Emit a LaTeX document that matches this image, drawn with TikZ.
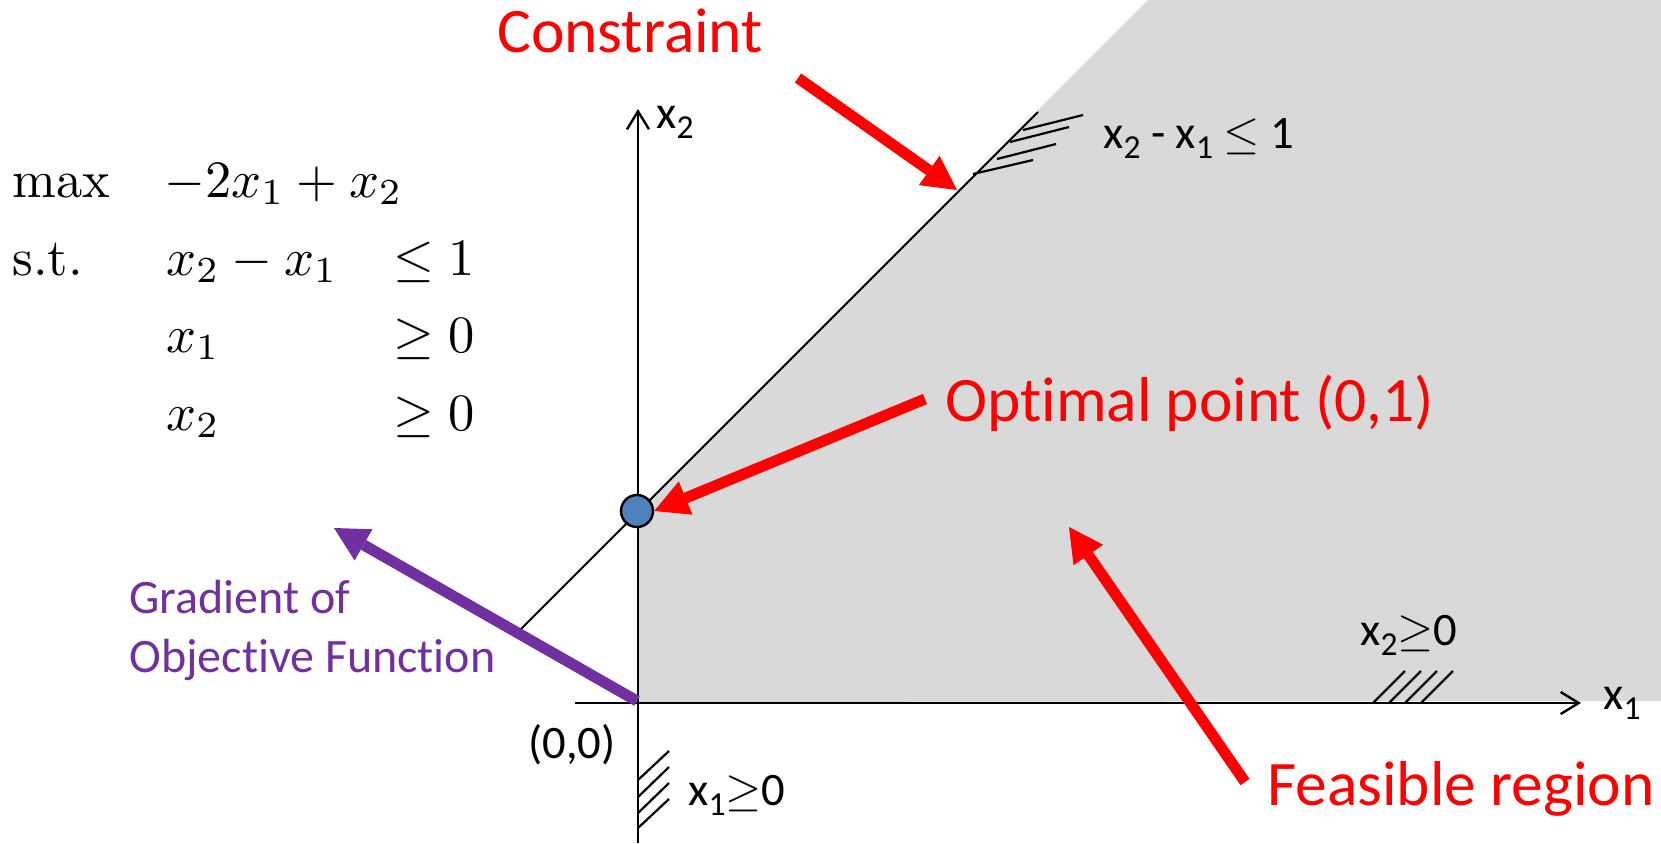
\RequirePackage{fix-cm}
\documentclass[tikz,border=0pt]{standalone}
\usepackage{fontspec}
\usetikzlibrary{arrows.meta}
\newfontfamily\calib{Carlito}[Ligatures=NoCommon]
\definecolor{regiongray}{HTML}{D9D9D9}
\definecolor{ptblue}{HTML}{4F81BD}
\definecolor{ptpurple}{HTML}{7030A0}
\definecolor{ptred}{HTML}{FF0000}
\newcommand{\dn}[1]{\raisebox{-0.23em}{\scalebox{0.72}{#1}}}
\newcommand{\lpbig}[1]{\scalebox{2.625}{\normalsize #1}}
\tikzset{
  redlab/.style={text=ptred, font=\calib\fontsize{31.7}{37}\selectfont, inner sep=0pt, anchor=base west},
  purplab/.style={text=ptpurple, font=\calib\fontsize{24}{28}\selectfont, inner sep=0pt, anchor=base west},
  blab/.style={text=black, font=\calib\fontsize{23.3}{27}\selectfont, inner sep=0pt, anchor=base west},
  mlab/.style={text=black, inner sep=0pt, anchor=base west},
  axisline/.style={draw=black, line width=1.2pt, -{Straight Barb[length=9pt,width=11pt]}},
  thinline/.style={draw=black, line width=1pt},
  hatch/.style={draw=black, line width=1.1pt},
  bigarrow/.style={line width=5.5pt, -{Triangle[width=18pt,length=17pt,line width=0pt]}},
}
\begin{document}
\begin{tikzpicture}[x=0.5pt,y=-0.5pt]
\useasboundingbox (0,0) rectangle (1661,843);
% feasible region
\fill[regiongray] (638,702) -- (638,510) -- (1148,0) -- (1661,0) -- (1661,701) -- cycle;
% coordinates
\coordinate (xaxS) at (575,703);
\coordinate (xaxE) at (1581,703);
\coordinate (yaxS) at (638,843);
\coordinate (yaxE) at (638,109);
\coordinate (consS) at (515,635);
\coordinate (consE) at (1038,112);
% axes
\draw[axisline] (xaxS) -- (xaxE);
\draw[axisline] (yaxS) -- (yaxE);
% constraint line
\draw[thinline] (consS) -- (consE);
% hatches on constraint
\draw[hatch] (1023,130) -- (1083,115);
\draw[hatch] (1010,142) -- (1069,127);
\draw[hatch] (997,159) -- (1056,144);
\draw[hatch] (973,174) -- (1033,160);
% hatches on x2>=0
\draw[hatch] (1373,703) -- (1405,671);
\draw[hatch] (1389,703) -- (1421,671);
\draw[hatch] (1405,703) -- (1437,671);
\draw[hatch] (1421,703) -- (1453,671);
% hatches on x1>=0
\draw[hatch] (638,780) -- (669,751);
\draw[hatch] (638,797) -- (669,767);
\draw[hatch] (638,813) -- (669,783);
\draw[hatch] (638,828) -- (669,799);
% optimal point
\node[circle, fill=ptblue, draw=black, line width=1.2pt, minimum size=16pt, inner sep=0pt] (opt) at (637,511) {};
% arrows
\coordinate (cTail) at (798,78);
\coordinate (cTip) at (957,190);
\coordinate (oTail) at (925,399);
\coordinate (fTail) at (1245,782);
\coordinate (fTip) at (1069,527);
\coordinate (gTail) at (637,701);
\coordinate (gTip) at (334,528);
\draw[bigarrow, ptred] (cTail) -- (cTip);
\draw[bigarrow, ptred] (oTail) -- (opt.east);
\draw[bigarrow, ptred] (fTail) -- (fTip);
\draw[bigarrow, ptpurple] (gTail) -- (gTip);
% red labels
\node[redlab] (constr) at (497,52) {Constraint};
\node[redlab] (optlab) at (945,421) {Optimal point (0,1)};
\node[redlab] (feas) at (1267,805) {Feasible region};
% purple labels
\node[purplab] (grad1) at (129,613) {Gradient of};
\node[purplab] (grad2) at (129,672) {Objective Function};
% black labels
\node[blab] (x2lab) at (656,128) {x\dn{2}};
\node[blab] (x1lab) at (1603,709) {x\dn{1}};
\node[blab] (origin) at (528,758) {(0,0)};
\node[blab] (x1ge) at (688,805) {x\dn{1}$\geq$0};
\node[blab] (x2ge) at (1360,645) {x\dn{2}$\geq$0};
\node[blab] (conslab) at (1103,148) {x\dn{2} - x\dn{1} $\leq$ 1};
% LP formulation
\node[mlab] (max) at (12,197) {\lpbig{max}};
\node[mlab] (obj) at (164,197) {\lpbig{$-2x_1+x_2$}};
\node[mlab] (st) at (12,275) {\lpbig{s.t.}};
\node[mlab] (c1l) at (166,275) {\lpbig{$x_2-x_1$}};
\node[mlab] (c1r) at (393,275) {\lpbig{$\leq 1$}};
\node[mlab] (c2l) at (166,352) {\lpbig{$x_1$}};
\node[mlab] (c2r) at (393,352) {\lpbig{$\geq 0$}};
\node[mlab] (c3l) at (166,430) {\lpbig{$x_2$}};
\node[mlab] (c3r) at (393,430) {\lpbig{$\geq 0$}};
\end{tikzpicture}
\end{document}
